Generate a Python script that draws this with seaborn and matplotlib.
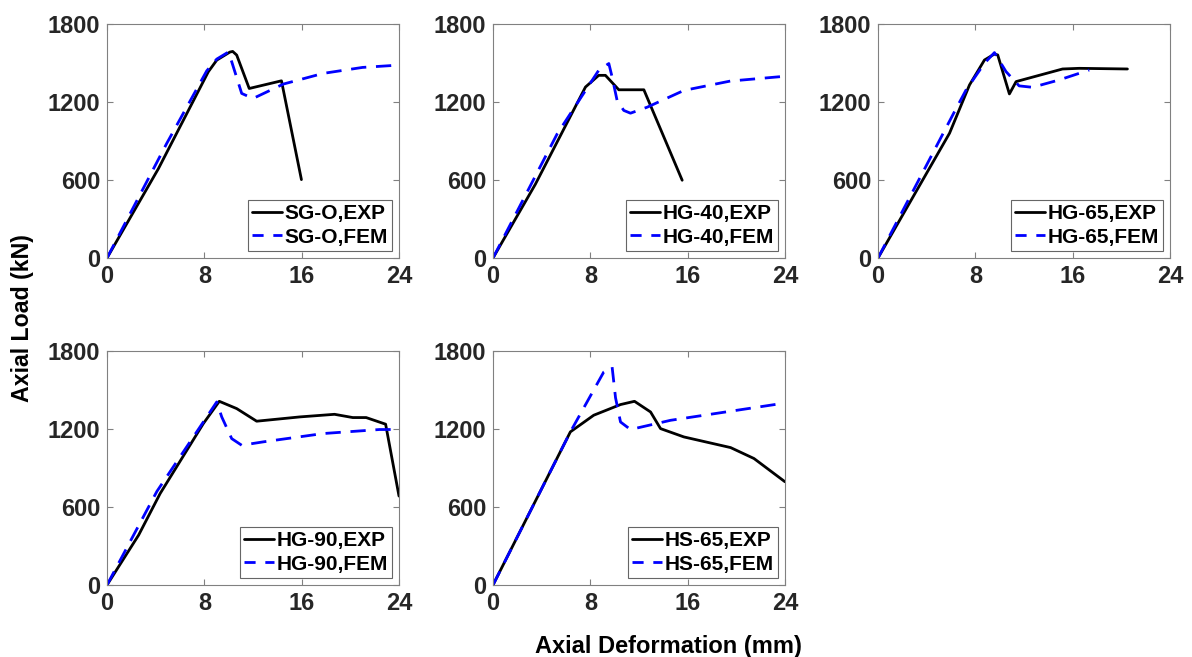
import matplotlib
matplotlib.use("Agg")
import matplotlib.pyplot as plt
import seaborn as sns
import pandas as pd

sns.set_theme(style="white")
plt.rcParams['font.family'] = ['Liberation Sans', 'DejaVu Sans']
plt.rcParams['font.weight'] = 'bold'

specimens = ["SG-O", "HG-40", "HG-65", "HG-90", "HS-65"]

sgo_exp_x = [0, 4.23, 8.33, 9.02, 10.1, 10.33, 10.66, 11.69, 14.34, 15.98]
sgo_exp_y = [0, 688, 1433, 1522, 1584, 1589, 1561, 1304, 1363, 603]
sgo_fem_x = [0, 4.9, 8.2, 9.02, 9.97, 10.25, 11.07, 12.0, 14.5, 17.76, 21.0, 24.0]
sgo_fem_y = [0, 880, 1440, 1530, 1584, 1510, 1266, 1227, 1338, 1420, 1466, 1484]

hg40_exp_x = [0, 3.48, 7.6, 8.69, 9.24, 10.34, 12.4, 15.55]
hg40_exp_y = [0, 567, 1315, 1405, 1405, 1294, 1294, 598]
hg40_fem_x = [0, 5.27, 8.69, 9.52, 9.79, 10.2, 10.75, 11.3, 12.67, 15.69, 19.5, 24.0]
hg40_fem_y = [0, 954, 1444, 1496, 1392, 1212, 1135, 1114, 1160, 1289, 1361, 1398]

hg65_exp_x = [0, 5.88, 7.52, 8.75, 9.57, 9.84, 10.8, 11.35, 15.17, 16.54, 20.5]
hg65_exp_y = [0, 960, 1331, 1523, 1569, 1562, 1262, 1357, 1454, 1459, 1454]
hg65_fem_x = [0, 6.4, 7.24, 8.75, 9.57, 10.52, 11.6, 12.7, 14.9, 17.36]
hg65_fem_y = [0, 1146, 1293, 1498, 1580, 1434, 1324, 1313, 1370, 1446]

hg90_exp_x = [0, 2.6, 4.37, 7.92, 9.23, 10.66, 12.3, 15.85, 18.7, 20.2, 21.3, 22.9, 24.0]
hg90_exp_y = [0, 384, 704, 1242, 1413, 1357, 1260, 1293, 1313, 1288, 1288, 1237, 684]
hg90_fem_x = [0, 4.1, 9.02, 9.43, 10.25, 11.07, 12.84, 17.76, 22.4, 24.0]
hg90_fem_y = [0, 720, 1408, 1293, 1126, 1075, 1101, 1165, 1196, 1196]

hs65_exp_x = [0, 6.36, 8.28, 10.48, 11.63, 12.95, 13.77, 15.69, 19.53, 21.45, 24.0]
hs65_exp_y = [0, 1178, 1306, 1388, 1413, 1331, 1203, 1139, 1057, 973, 794]
hs65_fem_x = [0, 6.36, 7.73, 9.1, 9.79, 10.07, 10.48, 11.3, 14.6, 24.0]
hs65_fem_y = [0, 1178, 1408, 1638, 1677, 1441, 1254, 1196, 1267, 1400]

series = [
    (sgo_exp_x, sgo_exp_y, sgo_fem_x, sgo_fem_y),
    (hg40_exp_x, hg40_exp_y, hg40_fem_x, hg40_fem_y),
    (hg65_exp_x, hg65_exp_y, hg65_fem_x, hg65_fem_y),
    (hg90_exp_x, hg90_exp_y, hg90_fem_x, hg90_fem_y),
    (hs65_exp_x, hs65_exp_y, hs65_fem_x, hs65_fem_y),
]

x_ticks = [0, 8, 16, 24]
y_ticks = [0, 600, 1200, 1800]

W, H = 1192, 657
fig = plt.figure(figsize=(W / 100, H / 100), dpi=100)
lefts = [107, 493, 878]
tops = [24, 351]
aw, ah = 292, 234

txt_color = "#262626"
for i, (name, (ex, ey, fx, fy)) in enumerate(zip(specimens, series)):
    r, c = divmod(i, 3)
    ax = fig.add_axes([lefts[c] / W, 1 - (tops[r] + ah) / H, aw / W, ah / H])
    dexp = pd.DataFrame({"x": ex, "y": ey})
    dfem = pd.DataFrame({"x": fx, "y": fy})
    sns.lineplot(data=dexp, x="x", y="y", sort=False, estimator=None, ax=ax,
                 color="black", lw=2, label=f"{name},EXP")
    sns.lineplot(data=dfem, x="x", y="y", sort=False, estimator=None, ax=ax,
                 color="#0000ff", lw=2, dashes=False, label=f"{name},FEM")
    ax.lines[1].set_linestyle((0, (5.5, 3.5)))
    ax.set_xlim(0, 24)
    ax.set_ylim(0, 1800)
    ax.set_xticks(x_ticks)
    ax.set_yticks(y_ticks)
    ax.set_xlabel("")
    ax.set_ylabel("")
    ax.tick_params(direction="in", length=4, width=0.8, top=True, right=True,
                   labelsize=17, colors="#808080", labelcolor=txt_color, pad=5,
                   bottom=True, left=True)
    for lab in ax.get_xticklabels() + ax.get_yticklabels():
        lab.set_fontweight("bold")
    for sp in ax.spines.values():
        sp.set_color("#808080")
        sp.set_linewidth(0.8)
    leg = ax.legend(loc="lower right", fontsize=15, frameon=True, fancybox=False,
                    handlelength=1.45, handletextpad=0.1, borderpad=0.2,
                    labelspacing=0.2, borderaxespad=0.35)
    leg.get_frame().set_edgecolor("#404040")
    leg.get_frame().set_linewidth(0.8)
    leg.legend_handles[1].set_linestyle((0, (4, 3.5)))
    for t in leg.get_texts():
        t.set_fontweight("bold")
        t.set_color("black")

fig.text(23 / W, 1 - 318 / H, "Axial Load (kN)", rotation=90, ha="center", va="center",
         fontsize=16.7, fontweight="bold", color="black")
fig.text(668 / W, 1 - 646 / H, "Axial Deformation (mm)", ha="center", va="center",
         fontsize=17, fontweight="bold", color="black")

fig.savefig("out.png", dpi=100)
